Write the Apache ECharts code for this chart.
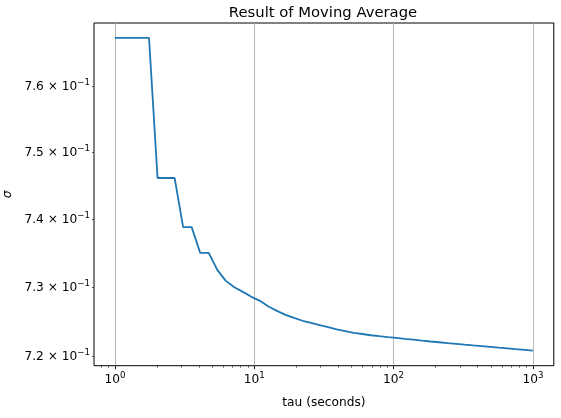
<!DOCTYPE html>
<html>
<head>
<meta charset="utf-8">
<script src="https://cdn.jsdelivr.net/npm/echarts@6/dist/echarts.min.js"></script>
<style>
html,body{margin:0;padding:0;background:#fff;}
#chart{width:561px;height:418px;}
</style>
</head>
<body>
<div id="chart"></div>
<script>
// tau values (seconds)
var tauValues = [1, 1.1514, 1.3257, 1.5264, 1.7575, 2.0236, 2.33, 2.6827, 3.0888, 3.5565,
  4.0949, 4.7149, 5.4287, 6.2506, 7.1969, 8.2864, 9.541, 10.985, 12.649, 14.563,
  16.768, 19.307, 22.23, 25.595, 29.471, 33.932, 39.069, 44.984, 51.795, 59.636,
  68.665, 79.06, 91.03, 104.81, 120.68, 138.95, 159.99, 184.21, 212.1, 244.21,
  281.18, 323.75, 372.76, 429.19, 494.17, 568.99, 655.13, 754.31, 868.51, 1000];
// sigma values
var sigmaValues = [0.7674, 0.7674, 0.7674, 0.7674, 0.7674, 0.7462, 0.7462, 0.7462, 0.7389, 0.7389,
  0.7351, 0.7351, 0.73261, 0.73100, 0.73008, 0.72939, 0.72867, 0.72809, 0.72727, 0.72662,
  0.72604, 0.72560, 0.72519, 0.72488, 0.72457, 0.72427, 0.72395, 0.72370, 0.72345, 0.72327,
  0.72309, 0.72295, 0.72282, 0.72270, 0.72257, 0.72246, 0.72232, 0.72219, 0.72208, 0.72196,
  0.72185, 0.72173, 0.72162, 0.72152, 0.72141, 0.72130, 0.72120, 0.72108, 0.72098, 0.72087];
var xMajorTicks = [1, 10, 100, 1000];
var xMinorTicks = [0.8, 0.9, 2, 3, 4, 5, 6, 7, 8, 9, 20, 30, 40, 50, 60, 70, 80, 90,
  200, 300, 400, 500, 600, 700, 800, 900];
var yTicks = [0.72, 0.73, 0.74, 0.75, 0.76];
var titleText = 'Result of Moving Average';
var xName = 'tau (seconds)';
var yName = 'σ';

var FONT = 'DejaVu Sans';
var data = tauValues.map(function (t, i) { return [t, sigmaValues[i]]; });

var chart = echarts.init(document.getElementById('chart'), null, {renderer: 'canvas'});
chart.setOption({
  animation: false,
  backgroundColor: '#fff',
  title: {
    text: titleText, left: 318, top: 1, textAlign: 'center',
    textStyle: {fontFamily: FONT, fontSize: 14.8, fontWeight: 'normal', color: '#000'}
  },
  grid: {
    left: 94, right: 7.2, top: 23, bottom: 52.3,
    containLabel: false, outerBoundsMode: 'none',
    show: true, borderColor: '#000', borderWidth: 1, backgroundColor: 'transparent'
  },
  xAxis: [{
    type: 'log', logBase: 10, min: 0.70795, max: 1412.5,
    name: xName, nameLocation: 'middle', nameGap: 31,
    nameTextStyle: {fontFamily: FONT, fontSize: 12.2, color: '#000'},
    axisLine: {show: false},
    axisTick: {show: true, inside: false, length: 3.5, customValues: xMajorTicks,
      lineStyle: {color: '#000', width: 0.9}},
    axisLabel: {
      customValues: xMajorTicks, margin: 6, color: '#000',
      formatter: function (v) {
        var e = Math.round(Math.log10(v));
        return '{b|10}{s|' + e + '}';
      },
      rich: {
        b: {fontFamily: FONT, fontSize: 12.2, color: '#000'},
        s: {fontFamily: FONT, fontSize: 8.6, color: '#000', padding: [0, 0, 7, 0]}
      }
    },
    splitLine: {show: true, lineStyle: {color: '#b0b0b0', width: 0.9}}
  }, {
    type: 'log', logBase: 10, min: 0.70795, max: 1412.5, position: 'bottom',
    axisLine: {show: false},
    axisTick: {show: true, inside: false, length: 2, customValues: xMinorTicks,
      lineStyle: {color: '#000', width: 0.6}},
    axisLabel: {show: false},
    splitLine: {show: false}
  }],
  yAxis: {
    type: 'log', logBase: 10, min: 0.7187, max: 0.7697,
    name: yName, nameLocation: 'middle', nameGap: 78, nameRotate: 90,
    nameTextStyle: {fontFamily: FONT, fontSize: 12.2, color: '#000', fontStyle: 'italic'},
    axisLine: {show: false},
    axisTick: {show: true, inside: false, length: 2, customValues: yTicks,
      lineStyle: {color: '#000', width: 0.6}},
    axisLabel: {
      customValues: yTicks, margin: 4, color: '#000',
      formatter: function (v) {
        return '{b|' + (v * 10).toFixed(1) + ' × 10}{s|−1}';
      },
      rich: {
        b: {fontFamily: FONT, fontSize: 12.2, color: '#000'},
        s: {fontFamily: FONT, fontSize: 8.6, color: '#000', padding: [0, 0, 7, 0]}
      }
    },
    splitLine: {show: false}
  },
  series: [{
    type: 'line', xAxisIndex: 0, yAxisIndex: 0, data: data,
    showSymbol: false, symbol: 'none', smooth: false,
    lineStyle: {color: '#1f77b4', width: 1.8},
    clip: true
  }]
});
</script>
</body>
</html>
